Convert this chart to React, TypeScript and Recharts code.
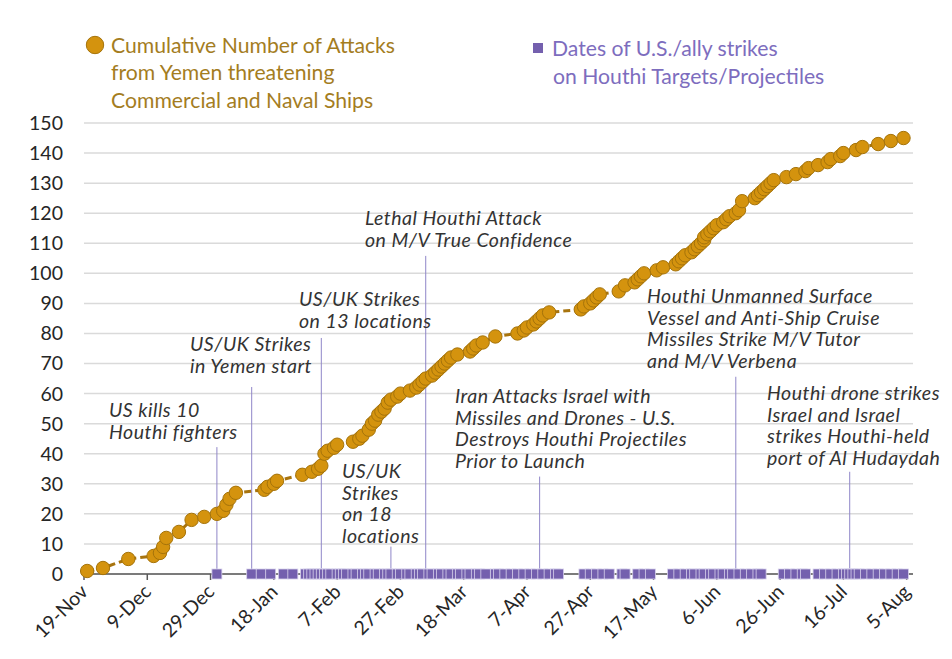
import React from 'react';
import { ComposedChart, Line, Scatter, XAxis, YAxis, CartesianGrid, ReferenceLine } from 'recharts';

// ---- data ----
// days counted from 19-Nov-2023
const tickDays = [0, 20, 40, 60, 80, 100, 120, 140, 160, 180, 200, 220, 240, 260];
const tickLabels = ['19-Nov', '9-Dec', '29-Dec', '18-Jan', '7-Feb', '27-Feb', '18-Mar', '7-Apr', '27-Apr', '17-May', '6-Jun', '26-Jun', '16-Jul', '5-Aug'];
const yTicks = [0, 10, 20, 30, 40, 50, 60, 70, 80, 90, 100, 110, 120, 130, 140, 150];

const attackDays = [1, 6, 14, 22, 24, 25, 26, 30, 34, 38, 42, 44, 45, 46, 48, 57, 58, 60, 61, 69, 72, 74, 75, 76, 77, 79, 80, 85, 87, 88, 90, 91, 92, 93, 94, 95, 96, 97, 99, 100, 103, 105, 106, 107, 108, 110, 111, 112, 113, 114, 115, 116, 118, 122, 123, 124, 126, 130, 137, 139, 140, 142, 143, 144, 145, 147, 157, 158, 160, 161, 162, 163, 169, 171, 174, 175, 176, 177, 181, 183, 187, 188, 189, 190, 192, 193, 194, 195, 196, 196, 197, 198, 199, 200, 202, 203, 204, 206, 207, 208, 212, 213, 214, 215, 216, 217, 218, 222, 225, 228, 229, 232, 235, 236, 239, 240, 244, 246, 251, 255, 259];
const attackCounts = [1, 2, 5, 6, 7, 9, 12, 14, 18, 19, 20, 21, 23, 25, 27, 28, 29, 30, 31, 33, 34, 35, 36, 40, 41, 42, 43, 44, 45, 46, 48, 50, 51, 53, 54, 55, 57, 58, 59, 60, 61, 62, 63, 64, 65, 66, 67, 68, 69, 70, 71, 72, 73, 74, 75, 76, 77, 79, 80, 81, 82, 83, 84, 85, 86, 87, 88, 89, 90, 91, 92, 93, 94, 96, 97, 98, 99, 100, 101, 102, 103, 104, 105, 106, 107, 108, 109, 110, 111, 112, 113, 114, 115, 116, 117, 118, 119, 120, 121, 124, 125, 126, 127, 128, 129, 130, 131, 132, 133, 134, 135, 136, 137, 138, 139, 140, 141, 142, 143, 144, 145];

const strikeDays = [42, 53, 56, 59, 63, 66, 70, 71, 72, 73, 74, 75, 76, 77, 78, 80, 81, 82, 83, 85, 86, 88, 89, 90, 92, 93, 95, 96, 97, 99, 100, 102, 103, 105, 106, 107, 109, 110, 112, 113, 115, 116, 118, 119, 121, 122, 124, 125, 127, 130, 131, 133, 135, 137, 139, 141, 143, 145, 147, 149, 150, 158, 160, 162, 164, 166, 170, 171, 175, 177, 179, 186, 188, 190, 192, 193, 195, 196, 198, 199, 201, 202, 204, 205, 207, 209, 211, 213, 214, 221, 223, 225, 227, 228, 232, 234, 236, 238, 240, 241, 242, 243, 244, 245, 247, 249, 251, 253, 255, 257, 259];

// annotation events: day of event, height of the marker line (in attack-count units)
const eventDays = [42, 53, 75, 97, 108, 144, 206, 242];
const eventLineTops = [42.2, 62.2, 78.5, 9.1, 105.8, 32.4, 65.6, 34];
const eventTexts = [
  ['US kills 10', 'Houthi fighters'],
  ['US/UK Strikes', 'in Yemen start'],
  ['US/UK Strikes', 'on 13 locations'],
  ['US/UK', 'Strikes', 'on 18', 'locations'],
  ['Lethal Houthi Attack', 'on M/V True Confidence'],
  ['Iran Attacks Israel with', 'Missiles and Drones - U.S.', 'Destroys Houthi Projectiles', 'Prior to Launch'],
  ['Houthi Unmanned Surface', 'Vessel and Anti-Ship Cruise', 'Missiles Strike M/V Tutor', 'and M/V Verbena'],
  ['Houthi drone strikes', 'Israel and Israel', 'strikes Houthi-held', 'port of Al Hudaydah'],
];
const legendAttacks = ['Cumulative Number of Attacks', 'from Yemen threatening', 'Commercial and Naval Ships'];
const legendStrikes = ['Dates of U.S./ally strikes', 'on Houthi Targets/Projectiles'];

// ---- layout / style ----
const FONT = 'Lato, "Open Sans", sans-serif';
const GOLD = '#D4930E';
const GOLD_EDGE = '#A5730A';
const GOLD_LINE = '#A8740E';
const PURPLE = '#7460AE';
const TEXT = '#333333';
const textPos: [number, number][] = [
  [109, 417], [190, 351], [299, 306], [342, 478], [365, 225], [455, 403], [647, 303], [767, 400],
];
const LINE_H = 21.6;

const attackData = attackDays.map((d, i) => ({ day: d, v: attackCounts[i] }));
const strikeData = strikeDays.map((d) => ({ day: d, v: 0 }));

const XTick = (props: any) => {
  const { x, y, payload } = props;
  const idx = tickDays.indexOf(payload.value);
  const ax = x + 5;
  const ay = y + 11;
  return (
    <text x={ax} y={ay} transform={`rotate(-45 ${ax} ${ay})`} textAnchor="end" fontSize={19.5} fill="#262626" fontFamily={FONT}>
      {tickLabels[idx]}
    </text>
  );
};

const Square = (props: any) => {
  const { cx, cy } = props;
  return <rect x={cx - 5} y={cy - 5} width={10} height={10} fill={PURPLE} stroke="#D8D2EC" strokeWidth={0.8} />;
};

const GoldDot = (props: any) => {
  const { cx, cy, index } = props;
  return <circle key={index} cx={cx} cy={cy} r={6.7} fill={GOLD} stroke={GOLD_EDGE} strokeWidth={1} />;
};

export default function App() {
  return (
    <div style={{ position: 'absolute', left: 0, top: 0, width: 952, height: 659, background: '#fff' }}>
      <ComposedChart width={952} height={659} margin={{ top: 123, right: 39, left: 0, bottom: 0 }}>
        <CartesianGrid horizontal vertical={false} stroke="#DADADA" strokeWidth={1.5} />
        <XAxis
          dataKey="day"
          type="number"
          domain={[0, 262]}
          ticks={tickDays}
          interval={0}
          height={85}
          tick={<XTick />}
          tickSize={6}
          stroke="#595959"
          axisLine={{ stroke: '#595959', strokeWidth: 1.5 }}
          tickLine={{ stroke: '#595959', strokeWidth: 1.5 }}
          allowDecimals={false}
        />
        <YAxis
          type="number"
          domain={[0, 150]}
          ticks={yTicks}
          interval={0}
          width={84}
          axisLine={false}
          tickLine={false}
          tickSize={0}
          tickMargin={21}
          tick={{ fontSize: 19.5, fill: '#262626', fontFamily: FONT }}
        />
        {eventDays.map((d, i) => (
          <ReferenceLine
            key={'ev' + i}
            segment={[{ x: d, y: eventLineTops[i] }, { x: d, y: 0 }]}
            stroke="#8F86C8"
            strokeWidth={1}
          />
        ))}
        <Line
          data={attackData}
          dataKey="v"
          stroke={GOLD_LINE}
          strokeWidth={3}
          strokeDasharray="7 4"
          dot={<GoldDot />}
          activeDot={false}
          isAnimationActive={false}
        />
        <Scatter data={strikeData} dataKey="v" shape={<Square />} isAnimationActive={false} />
      </ComposedChart>
      <svg width={952} height={659} style={{ position: 'absolute', left: 0, top: 0, pointerEvents: 'none' }}>
        <circle cx={95} cy={45} r={8.7} fill={GOLD} stroke={GOLD_EDGE} strokeWidth={1} />
        {legendAttacks.map((t, i) => (
          <text key={'la' + i} x={111} y={52.5 + i * 27.5} fontSize={21.2} fill="#A47D1F" fontFamily={FONT}>{t}</text>
        ))}
        <rect x={533} y={43} width={10} height={10} fill={PURPLE} />
        {legendStrikes.map((t, i) => (
          <text key={'ls' + i} x={552 + i} y={55.5 + i * 28} fontSize={21.2} fill="#7D6DBE" fontFamily={FONT}>{t}</text>
        ))}
        {eventTexts.map((lines, i) => (
          <text key={'et' + i} fontSize={19.5} letterSpacing={0.5} fontStyle="italic" fill={TEXT} fontFamily={FONT}>
            {lines.map((l, j) => (
              <tspan key={j} x={textPos[i][0]} y={textPos[i][1] + j * LINE_H}>{l}</tspan>
            ))}
          </text>
        ))}
      </svg>
    </div>
  );
}
